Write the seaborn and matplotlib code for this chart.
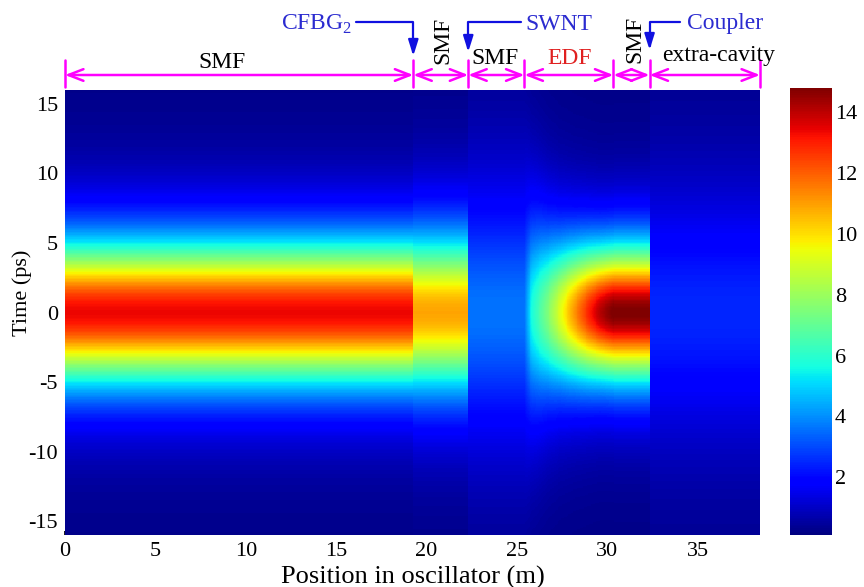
import numpy as np
import pandas as pd
import seaborn as sns
import matplotlib.pyplot as plt
from matplotlib.transforms import blended_transform_factory

# cavity segments (m)
seg_edges = [0.0, 19.27, 22.31, 25.42, 30.34, 32.34, 38.45]
seg_labels = ['SMF', 'SMF', 'SMF', 'EDF', 'SMF', 'extra-cavity']
# peak power and pulse width (sech^2 T0, ps) of the passive segments
seg_peak = [13.2, 10.7, 3.4, None, 14.6, 2.3]
seg_width = [4.8, 5.4, 8.5, None, 4.5, 8.5]
# inside the EDF the pulse is amplified and compressed
edf_pos = [25.42, 25.6, 25.84, 26.7, 27.4, 28.2, 29.0, 29.6, 30.34]
edf_peak = [3.4, 4.4, 5.5, 7.3, 9.0, 11.0, 12.8, 13.9, 14.7]
edf_width = [8.5, 7.7, 7.0, 5.9, 5.3, 4.9, 4.65, 4.5, 4.45]
floor_level = 0.2

# components marked with blue arrows: (name, boundary it points at)
callouts = [('CFBG$_{\\mathregular{2}}$', 19.27), ('SWNT', 22.31), ('Coupler', 32.34)]

x_ticks = [0, 5, 10, 15, 20, 25, 30, 35]
t_ticks = [15, 10, 5, 0, -5, -10, -15]
cbar_ticks = [2, 4, 6, 8, 10, 12, 14]

# %%
sns.set_theme(style='white')
plt.rcParams['font.family'] = ['Liberation Serif', 'DejaVu Serif']
plt.rcParams['mathtext.fontset'] = 'custom'
plt.rcParams['mathtext.rm'] = 'Liberation Serif'
for k in ['text.color', 'axes.labelcolor', 'xtick.color', 'ytick.color']:
    plt.rcParams[k] = 'black'

dx, dt, t_max = 0.05, 0.1, 16.0
x = np.arange(dx / 2, seg_edges[-1], dx)
t = np.arange(t_max - dt / 2, -t_max, -dt)

peak = np.zeros_like(x)
width = np.zeros_like(x)
for i in range(len(seg_labels)):
    m = (x >= seg_edges[i]) & (x < seg_edges[i + 1])
    if seg_peak[i] is None:
        peak[m] = np.interp(x[m], edf_pos, edf_peak)
        width[m] = np.interp(x[m], edf_pos, edf_width)
    else:
        peak[m] = seg_peak[i]
        width[m] = seg_width[i]

field = peak[None, :] / np.cosh(t[:, None] / width[None, :]) ** 2 + floor_level
df = pd.DataFrame(field, index=np.round(t, 2), columns=np.round(x, 3))

fig = plt.figure(figsize=(8.64, 5.87), dpi=100)
ax = fig.add_axes([65 / 864, 52 / 587, 695 / 864, 445 / 587])
cax = fig.add_axes([790 / 864, 52 / 587, 42 / 864, 447 / 587])

sns.heatmap(df, ax=ax, cmap='jet', vmin=0.1, vmax=14.8, cbar_ax=cax,
            xticklabels=False, yticklabels=False, rasterized=True)


def xi(p):
    return np.asarray(p, dtype=float) / dx


def ti(v):
    return (t_max - np.asarray(v, dtype=float)) / dt


def yax(ypx):
    # pixel row in the figure (from top) -> axes fraction
    return (535 - ypx) / 445


ax.set_xticks(xi(x_ticks))
ax.set_xticklabels([str(v) for v in x_ticks], rotation=0)
ax.set_yticks(ti(t_ticks))
ax.set_yticklabels([str(v) for v in t_ticks], rotation=0)
ax.tick_params(axis='both', labelsize=16, direction='in', length=3, pad=5,
               bottom=True, left=True)
ax.set_xlabel('Position in oscillator (m)', fontsize=19)
ax.xaxis.set_label_coords(0.5, yax(577))
ax.xaxis.label.set_va('center')
ax.set_ylabel('Time (ps)', fontsize=16)
ax.yaxis.set_label_coords((22 - 65) / 695, yax(293))
ax.yaxis.label.set_va('center')

cax.set_yticks(cbar_ticks)
cax.tick_params(direction='in', length=4, labelsize=16, left=True, right=True,
                labelleft=False, labelright=True, pad=2)

# %%
# segment markers above the map
tr = blended_transform_factory(ax.transData, ax.transAxes)
for b in seg_edges:
    ax.plot([xi(b)] * 2, [yax(87), yax(60)], transform=tr, clip_on=False,
            color='magenta', lw=1.8)
for i in range(len(seg_labels)):
    ax.annotate('', xy=(xi(seg_edges[i + 1]), yax(75)), xytext=(xi(seg_edges[i]), yax(75)),
                xycoords=tr, textcoords=tr,
                arrowprops=dict(arrowstyle='<->,head_length=0.9,head_width=0.35',
                                color='magenta', lw=1.8, shrinkA=0, shrinkB=0))

label_pos = [8.69, 20.93, 23.8, 27.9, 31.5, 36.15]
label_y = [63, 40, 59, 59, 39, 55]
label_rot = [0, 90, 0, 0, 90, 0]
for name, p, yy, rot in zip(seg_labels, label_pos, label_y, label_rot):
    ax.text(xi(p), yax(yy), name, transform=tr, ha='center', va='center',
            rotation=rot, fontsize=17, color='#e02020' if name == 'EDF' else 'black')

text_pos = [13.9, 27.35, 36.5]
line_start = [16.1, 25.2, 34.0]
tip_y = [56, 52, 50]
for (name, b), tp, ls, ty in zip(callouts, text_pos, line_start, tip_y):
    ax.text(xi(tp), yax(24), name, transform=tr, ha='center', va='center',
            fontsize=17, color='#2b2bd0')
    ax.annotate('', xy=(xi(b), yax(ty)), xytext=(xi(ls), yax(22)),
                xycoords=tr, textcoords=tr,
                arrowprops=dict(arrowstyle='-|>,head_length=0.8,head_width=0.25',
                                connectionstyle='angle,angleA=0,angleB=90,rad=0',
                                color='#1010e0', lw=1.6, shrinkA=0, shrinkB=0))

fig.savefig('out.png', dpi=100)
